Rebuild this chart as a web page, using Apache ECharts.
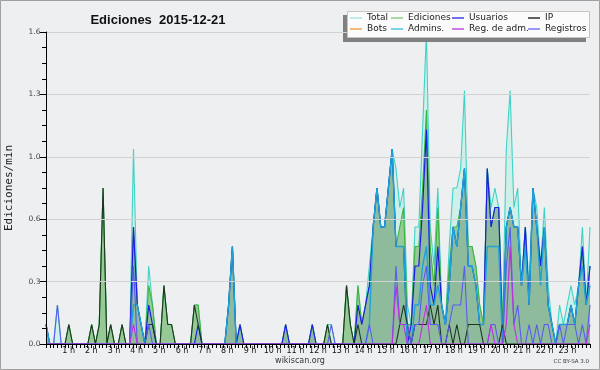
<!DOCTYPE html>
<html><head><meta charset="utf-8">
<script src="https://cdn.jsdelivr.net/npm/echarts@6/dist/echarts.min.js"></script>
<style>html,body{margin:0;padding:0;background:#edeff1}#c{width:600px;height:370px}</style>
</head><body><div id="c"></div><script>
// 144 ten-minute slots, values in edits/min
const hourLabels = ['', '1 h', '2 h', '3 h', '4 h', '5 h', '6 h', '7 h', '8 h', '9 h', '10 h', '11 h', '12 h',
  '13 h', '14 h', '15 h', '16 h', '17 h', '18 h', '19 h', '20 h', '21 h', '22 h', '23 h', ''];
const yTicks = [0, 0.32, 0.64, 0.96, 1.28, 1.6];

const total = [
 .1,0,0,.2,0,0,.1,0,0,0,0,0,
 .1,0,.1,.8,0,.1,0,0,.1,0,0,1.0,
 .2,.1,0,.4,.2,0,0,.3,.1,.1,0,0,
 0,0,0,.2,.2,0,0,0,0,0,0,0,
 .2,.5,0,.1,0,0,0,0,0,0,0,0,
 0,0,0,.1,0,0,0,0,0,0,.1,0,
 0,0,.1,.1,0,0,0,.3,.1,0,.3,.1,
 .2,.4,.6,.8,.6,.6,.8,1.0,.9,.7,.8,.2,
 .1,.6,.6,1.1,1.6,.6,.4,.8,.2,.1,.5,.8,
 .8,.9,1.3,.5,.5,.4,.2,.1,.9,.7,.8,.7,
 .1,1.0,1.3,.7,.8,.3,.6,.3,.8,.7,.4,.7,
 .3,.1,0,.2,.1,.2,.3,.2,.3,.6,.2,.6];
const ediciones = [
 .1,0,0,0,0,0,.1,0,0,0,0,0,
 .1,0,.1,.8,0,.1,0,0,.1,0,0,.6,
 .2,.1,0,.3,.2,0,0,.3,.1,.1,0,0,
 0,0,0,.2,.2,0,0,0,0,0,0,0,
 .2,.5,0,.1,0,0,0,0,0,0,0,0,
 0,0,0,.1,0,0,0,0,0,0,.1,0,
 0,0,.1,0,0,0,0,.3,.1,0,.3,.1,
 .2,.3,.6,.8,.6,.6,.8,1.0,.5,.6,.7,.1,
 .1,.5,.5,.8,1.2,.5,.3,.7,.2,.1,.4,.6,
 .6,.7,.9,.5,.5,.4,.2,.1,.9,.6,.7,.7,
 .1,.6,.7,.6,.6,.3,.6,.2,.8,.6,.4,.6,
 .2,.1,0,.1,.1,.1,.2,.1,.3,.5,.2,.4];
const usuarios = [
 .1,0,0,0,0,0,0,0,0,0,0,0,
 0,0,0,0,0,0,0,0,0,0,0,.6,
 .2,.1,0,.2,.1,0,0,0,0,0,0,0,
 0,0,0,0,.1,0,0,0,0,0,0,0,
 .2,.5,0,.1,0,0,0,0,0,0,0,0,
 0,0,0,.1,0,0,0,0,0,0,.1,0,
 0,0,0,0,0,0,0,0,0,0,.2,.1,
 .2,.3,.6,.8,.6,.6,.8,1.0,.5,.5,.5,0,
 .1,.4,.4,.7,1.1,.3,.2,.5,.2,.1,.3,.6,
 .5,.7,.9,.4,.4,.3,.1,.1,.9,.6,.7,.7,
 0,.6,.7,.6,.6,.3,.6,.2,.8,.6,.4,.6,
 .2,.1,0,.1,.1,.1,.2,.1,.3,.5,.2,.4];
const ip = [
 0,0,0,0,0,0,.1,0,0,0,0,0,
 .1,0,.1,.8,0,.1,0,0,.1,0,0,0,
 0,0,0,.1,.1,0,0,.3,.1,.1,0,0,
 0,0,0,.2,.1,0,0,0,0,0,0,0,
 0,0,0,0,0,0,0,0,0,0,0,0,
 0,0,0,0,0,0,0,0,0,0,0,0,
 0,0,.1,0,0,0,0,.3,.1,0,.1,0,
 0,0,0,0,0,0,0,0,0,.1,.2,.1,
 0,.1,.1,.1,.1,.2,.1,.2,0,0,.1,0,
 .1,0,0,.1,.1,.1,.1,0,0,0,0,0,
 .1,0,0,0,0,0,0,0,0,0,0,0,
 0,0,0,0,0,0,0,0,0,0,0,0];
const bots = [
 0,0,0,0,0,0,0,0,0,0,0,0, 0,0,0,0,0,0,0,0,0,0,0,0,
 0,0,0,0,0,0,0,0,0,0,0,0, 0,0,0,0,0,0,0,0,0,0,0,0,
 0,0,0,0,0,0,0,0,0,0,0,0, 0,0,0,0,0,0,0,0,0,0,0,0,
 0,0,0,0,0,0,0,0,0,0,0,0, 0,0,0,0,0,0,0,0,0,0,0,0,
 0,0,0,0,0,0,0,0,0,0,0,0, 0,0,0,0,0,0,0,0,0,0,0,0,
 0,0,0,0,0,0,0,0,0,0,0,0, 0,0,0,0,0,0,0,0,0,0,0,0];
const admins = [
 .1,0,0,0,0,0,0,0,0,0,0,0,
 0,0,0,0,0,0,0,0,0,0,0,.2,
 .2,.1,0,0,0,0,0,0,0,0,0,0,
 0,0,0,0,0,0,0,0,0,0,0,0,
 .2,.5,0,0,0,0,0,0,0,0,0,0,
 0,0,0,0,0,0,0,0,0,0,0,0,
 0,0,0,0,0,0,0,0,0,0,0,0,
 0,.1,.6,.8,.6,.6,.8,1.0,.5,.5,.5,0,
 0,.2,.2,.4,.5,.2,.2,.3,.2,.1,.3,.6,
 .5,.7,.9,.4,.4,.3,.1,.1,.5,.5,.5,.5,
 0,.6,.7,.6,.6,.3,.5,.2,.8,.6,.3,.6,
 .2,.1,0,.1,.1,.1,.2,.1,.3,.4,.2,.3];
const regAdm = [
 0,0,0,0,0,0,0,0,0,0,0,0,
 0,0,0,0,0,0,0,0,0,0,0,.1,
 0,0,0,0,0,0,0,0,0,0,0,0,
 0,0,0,0,0,0,0,0,0,0,0,0,
 0,0,0,0,0,0,0,0,0,0,0,0,
 0,0,0,0,0,0,0,0,0,0,0,0,
 0,0,0,0,0,0,0,0,0,0,0,0,
 0,0,0,0,0,0,0,0,.3,.1,.1,0,
 0,0,0,.1,.2,0,0,0,0,0,0,0,
 0,0,0,0,0,0,0,0,0,.1,0,0,
 0,.1,.5,.1,0,0,0,0,0,0,0,0,
 0,0,0,0,0,0,0,0,0,0,0,.1];
const registros = [
 0,0,0,.2,0,0,0,0,0,0,0,0,
 0,0,0,0,0,0,0,0,0,0,0,.4,
 0,0,0,.1,0,0,0,0,0,0,0,0,
 0,0,0,0,0,0,0,0,0,0,0,0,
 0,0,0,0,0,0,0,0,0,0,0,0,
 0,0,0,0,0,0,0,0,0,0,0,0,
 0,0,0,.1,0,0,0,0,0,0,0,0,
 0,.1,0,0,0,0,0,0,.4,.1,.1,.1,
 0,.1,.1,.3,.4,.1,.1,.1,0,0,.1,.2,
 .2,.2,.4,0,0,0,0,0,0,.1,.1,0,
 0,.4,.6,.1,.2,0,0,.1,0,.1,0,.1,
 .1,0,0,.1,0,.1,.1,.1,0,.1,0,.2];

const pts = a => a.map((v, i) => [i, v]);
const chart = echarts.init(document.getElementById('c'), null, {renderer: 'canvas'});

function lineSeries(name, data, color, width, area, z) {
  const s = {name, type: 'line', data: pts(data), xAxisIndex: 0, yAxisIndex: 0,
    showSymbol: false, symbol: 'none', animation: false, z: z,
    lineStyle: {color, width}, itemStyle: {color}};
  if (area) s.areaStyle = area;
  return s;
}
const legendFont = {fontSize: 9, fontFamily: 'DejaVu Sans', color: '#222'};
function leg(name, color, left, top) {
  return {data: [{name, itemStyle: {color}}], left, top, padding: 0, icon: 'rect',
    itemWidth: 12, itemHeight: 1.4, selectedMode: false, textStyle: legendFont, z: 20};
}

chart.setOption({
  backgroundColor: '#edeff1',
  animation: false,
  title: {text: 'Ediciones  2015-12-21', left: 153, top: 9, textAlign: 'center',
    textStyle: {fontSize: 13, fontWeight: 'bold', fontFamily: 'Liberation Sans', color: '#111'}},
  grid: {left: 46, right: 10, top: 32, bottom: 26, containLabel: false, outerBoundsMode: 'none'},
  legend: [
    leg('Total', '#a8e4e0', 350, 13.5), leg('Ediciones', '#80cc80', 391, 13.5),
    leg('Usuarios', '#3434e0', 452, 13.5), leg('IP', '#202020', 528, 13.5),
    leg('Bots', '#f0a040', 350, 24.5), leg('Admins.', '#40c4e0', 391, 24.5),
    leg('Reg. de adm.', '#c040e0', 452, 24.5), leg('Registros', '#7070f0', 528, 24.5)
  ],
  graphic: [
    {type: 'rect', shape: {x: 0.5, y: 0.5, width: 599, height: 369}, style: {fill: 'none', stroke: '#a0a0a0', lineWidth: 1}, z: 0},
    {type: 'rect', shape: {x: 343, y: 15, width: 243, height: 27}, style: {fill: '#808080'}, z: 10},
    {type: 'rect', shape: {x: 347.5, y: 11.5, width: 242, height: 26}, style: {fill: '#fbfbfb', stroke: '#c4c4c4', lineWidth: 1}, z: 11},
    {type: 'text', left: 'center', top: 357, style: {text: 'wikiscan.org', font: '8px "DejaVu Sans"', fill: '#333'}},
    {type: 'text', right: 11, top: 359, style: {text: 'CC BY-SA 3.0', font: '5.5px "DejaVu Sans"', fill: '#333'}}
  ],
  xAxis: [
    {type: 'value', min: 0, max: 143, show: false, gridIndex: 0},
    {type: 'value', min: 0, max: 24, interval: 1, gridIndex: 0, position: 'bottom', z: 10,
      axisLine: {show: true, onZero: false, lineStyle: {color: '#000', width: 1}},
      axisTick: {show: true, length: 4, lineStyle: {color: '#000'}},
      minorTick: {show: true, splitNumber: 6, length: 4, lineStyle: {color: '#000'}},
      splitLine: {show: false},
      axisLabel: {fontSize: 8, fontFamily: 'DejaVu Sans', color: '#111', margin: 3,
        formatter: v => hourLabels[Math.round(v)] || ''}}
  ],
  yAxis: [{type: 'value', min: yTicks[0], max: yTicks[yTicks.length - 1], interval: yTicks[1], z: 10,
    name: 'Ediciones/min', nameLocation: 'middle', nameGap: 31,
    nameTextStyle: {fontSize: 11, fontFamily: 'DejaVu Sans Mono', color: '#222'},
    axisLine: {show: true, lineStyle: {color: '#000', width: 1}},
    axisTick: {show: true, length: 6, lineStyle: {color: '#000'}},
    minorTick: {show: true, splitNumber: 4, length: 4, lineStyle: {color: '#000'}},
    splitLine: {show: true, lineStyle: {color: '#d2d2d2', width: 1}},
    axisLabel: {fontSize: 7.5, fontFamily: 'DejaVu Sans', color: '#444', margin: 5.5,
      formatter: v => v.toFixed(1)}}],
  series: [
    lineSeries('Total', total, '#3fd2c6', 1.1, {color: 'rgba(196,240,228,0.75)', opacity: 1}, 2),
    lineSeries('Ediciones', ediciones, '#3cb43c', 1.1, {color: '#96c996', opacity: 1}, 3),
    lineSeries('Usuarios', usuarios, '#1c1ce8', 1.2, {color: 'rgba(50,60,210,0.09)', opacity: 1}, 4),
    lineSeries('Admins.', admins, '#1ea2d8', 1.4, null, 5),
    lineSeries('IP', ip, '#1e3320', 1.1, null, 6),
    lineSeries('Registros', registros, '#5a5af2', 1.1, null, 7),
    lineSeries('Reg. de adm.', regAdm, '#c22ee0', 1.1, null, 8),
    lineSeries('Bots', bots, '#f0a030', 1, null, 1)
  ]
});
</script></body></html>
